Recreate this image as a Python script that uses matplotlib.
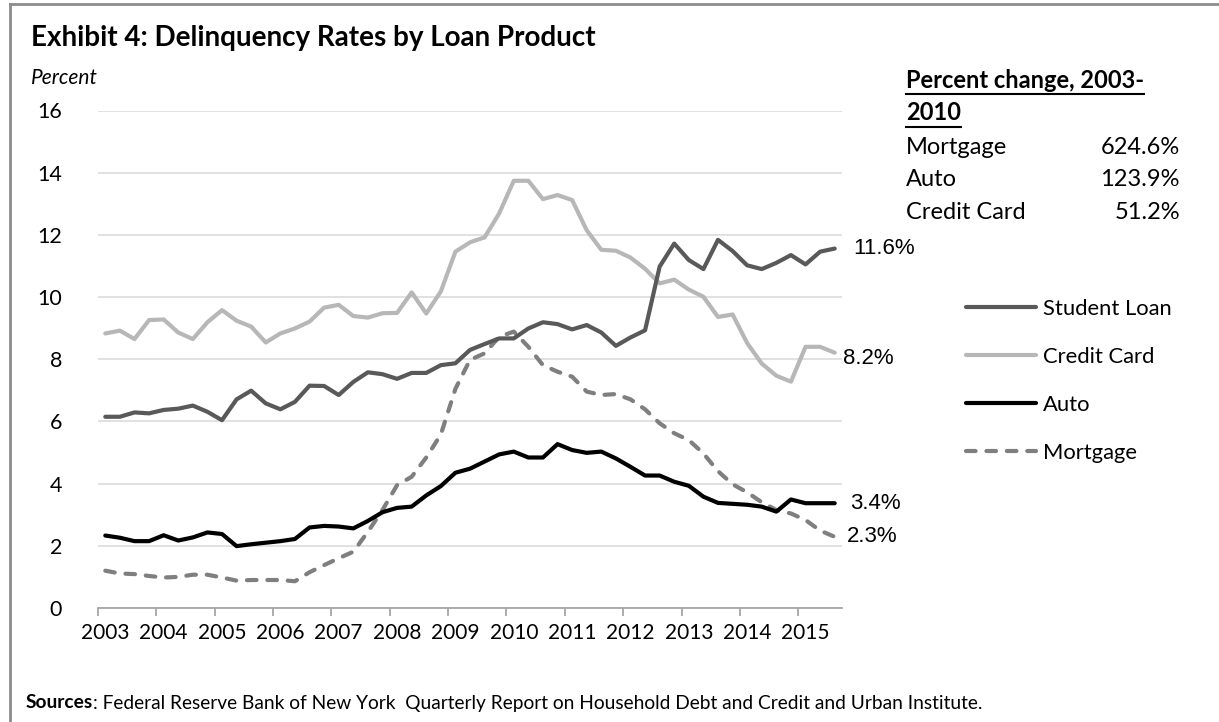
import numpy as np
import matplotlib
matplotlib.use("Agg")
import matplotlib.pyplot as plt
from matplotlib.lines import Line2D

W, H = 1219, 722

# quarterly values, 2003Q1 .. 2015Q3
years = [str(y) for y in range(2003, 2016)]
student_loan = [6.15, 6.15, 6.29, 6.26, 6.37, 6.41, 6.51, 6.31, 6.04, 6.71,
                6.99, 6.58, 6.39, 6.63, 7.15, 7.14, 6.85, 7.27, 7.58, 7.52,
                7.37, 7.56, 7.56, 7.81, 7.87, 8.30, 8.49, 8.67, 8.67, 8.99,
                9.19, 9.13, 8.96, 9.10, 8.86, 8.43, 8.70, 8.93, 10.98, 11.72,
                11.19, 10.90, 11.84, 11.48, 11.02, 10.90, 11.10, 11.35, 11.05, 11.46,
                11.56]
credit_card = [8.83, 8.92, 8.65, 9.26, 9.28, 8.86, 8.65, 9.19, 9.58, 9.24,
               9.05, 8.54, 8.83, 8.99, 9.21, 9.66, 9.75, 9.39, 9.34, 9.48,
               9.49, 10.15, 9.47, 10.18, 11.46, 11.76, 11.92, 12.69, 13.74, 13.74,
               13.15, 13.28, 13.12, 12.15, 11.52, 11.49, 11.27, 10.91, 10.44, 10.56,
               10.24, 10.01, 9.36, 9.44, 8.52, 7.86, 7.47, 7.28, 8.40, 8.40,
               8.21]
auto = [2.33, 2.26, 2.15, 2.15, 2.34, 2.17, 2.27, 2.43, 2.38, 1.99,
        2.05, 2.10, 2.15, 2.22, 2.59, 2.64, 2.62, 2.56, 2.80, 3.08,
        3.22, 3.26, 3.62, 3.92, 4.35, 4.48, 4.71, 4.94, 5.03, 4.84,
        4.84, 5.27, 5.08, 4.99, 5.03, 4.81, 4.54, 4.26, 4.26, 4.06,
        3.93, 3.58, 3.38, 3.35, 3.32, 3.26, 3.10, 3.49, 3.37, 3.37,
        3.37]
mortgage = [1.20, 1.11, 1.09, 1.03, 0.98, 1.00, 1.07, 1.07, 0.98, 0.88,
            0.90, 0.90, 0.90, 0.86, 1.15, 1.38, 1.60, 1.81, 2.45, 3.15,
            3.95, 4.22, 4.84, 5.58, 7.05, 7.98, 8.19, 8.72, 8.89, 8.40,
            7.81, 7.60, 7.44, 6.96, 6.85, 6.88, 6.71, 6.39, 5.94, 5.62,
            5.40, 4.97, 4.40, 3.98, 3.72, 3.40, 3.15, 3.04, 2.83, 2.49,
            2.29]
end_labels = ["11.6%", "8.2%", "3.4%", "2.3%"]
change_names = ["Mortgage", "Auto", "Credit Card"]
change_values = ["624.6%", "123.9%", "51.2%"]

plt.rcParams['font.family'] = ['Lato', 'DejaVu Sans']


def fx(px):
    return px / W


def fy(py):
    return 1 - py / H


fig = plt.figure(figsize=(W / 100, H / 100), dpi=100)
ax = fig.add_axes([fx(98), fy(608), fx(842) - fx(98), fy(110.5) - fy(608)])

q = np.arange(len(student_loan))

# draw order: light lines first, dark ones on top
l_cc, = ax.plot(q, credit_card, color="#b7b7b7", lw=3, label="Credit Card",
                solid_capstyle="round", solid_joinstyle="round", zorder=2)
l_mo, = ax.plot(q, mortgage, color="#7f7f7f", lw=3, label="Mortgage",
                dash_capstyle="round", solid_joinstyle="round", zorder=3)
l_mo.set_dashes([2.3, 2.6])
l_au, = ax.plot(q, auto, color="#000000", lw=3, label="Auto",
                solid_capstyle="round", solid_joinstyle="round", zorder=4)
l_sl, = ax.plot(q, student_loan, color="#595959", lw=3, label="Student Loan",
                solid_capstyle="round", solid_joinstyle="round", zorder=5)

ax.set_xlim(-0.5, len(q) - 0.5)
ax.set_ylim(0, 16)
ax.set_yticks(np.arange(0, 17, 2))
ax.yaxis.grid(True, color="#d9d9d9", lw=1.1)
ax.set_axisbelow(True)
for s in ["left", "top", "right"]:
    ax.spines[s].set_visible(False)
ax.spines["bottom"].set_color("#a6a6a6")
ax.spines["bottom"].set_linewidth(1.3)

ax.set_xticks(np.arange(-0.5, len(q) - 2, 4))
ax.set_xticklabels([])
ax.set_xticks(np.arange(0, len(q), 4), minor=True)
ax.set_xticklabels(years, minor=True)
ax.tick_params(axis="x", which="major", length=6, width=1.3, color="#a6a6a6", direction="out")
ax.tick_params(axis="x", which="minor", length=0, pad=11, labelsize=15)
ax.tick_params(axis="y", length=0, pad=26, labelsize=15.5)

# labels at the end of each line
ends = [(student_loan, end_labels[0], 13, 0),
        (credit_card, end_labels[1], 6, -4),
        (auto, end_labels[2], 11, 0),
        (mortgage, end_labels[3], 9, 0)]
for vals, txt, dx, dy in ends:
    ax.annotate(txt, (q[-1], vals[-1]), xytext=(dx, dy), textcoords="offset points",
                ha="left", va="center", fontsize=16, family="Liberation Sans",
                annotation_clip=False)

fig.legend([l_sl, l_cc, l_au, l_mo], ["Student Loan", "Credit Card", "Auto", "Mortgage"],
           loc="upper left", bbox_to_anchor=(fx(966), fy(299)), frameon=False,
           fontsize=15.8, handlelength=3.2, handletextpad=0.32, labelspacing=1.27,
           borderpad=0, borderaxespad=0)

# titles and notes
fig.text(fx(31), fy(38), "Exhibit 4: Delinquency Rates by Loan Product",
         fontsize=20, fontweight="bold", va="center", ha="left")
fig.text(fx(31), fy(78), "Percent", fontsize=15, fontstyle="italic", va="center", ha="left")

# percent change table
h1 = fig.text(fx(906), fy(80), "Percent change, 2003-", fontsize=17, fontweight="bold",
              va="center", ha="left")
h2 = fig.text(fx(906), fy(113), "2010", fontsize=17, fontweight="bold", va="center", ha="left")
for i, (nm, val) in enumerate(zip(change_names, change_values)):
    yy = fy(148 + 32 * i)
    fig.text(fx(906), yy, nm, fontsize=17, va="center", ha="left")
    fig.text(fx(1180), yy, val, fontsize=17, va="center", ha="right")

t1 = fig.text(fx(26), fy(703), "Sources", fontsize=13.8, fontweight="bold", va="center", ha="left")

fig.canvas.draw()
r = fig.canvas.get_renderer()
for t in [h1, h2]:
    bb = t.get_window_extent(r)
    yl = fy(H - (bb.y0 + bb.y1) / 2 + 14)
    fig.add_artist(Line2D([bb.x0 / W, bb.x1 / W], [yl, yl], color="black", lw=1.5))
bb = t1.get_window_extent(r)
fig.text(bb.x1 / W, fy(703), ": Federal Reserve Bank of New York  Quarterly Report on Household Debt and Credit and Urban Institute.",
         fontsize=13.8, va="center", ha="left")

# outer frame (top and left edges)
fig.add_artist(Line2D([fx(10), 1], [fy(4), fy(4)], color="#8c8c8c", lw=2))
fig.add_artist(Line2D([fx(10), fx(10)], [fy(4), 0], color="#8c8c8c", lw=2))

fig.savefig("out.png", dpi=100)
